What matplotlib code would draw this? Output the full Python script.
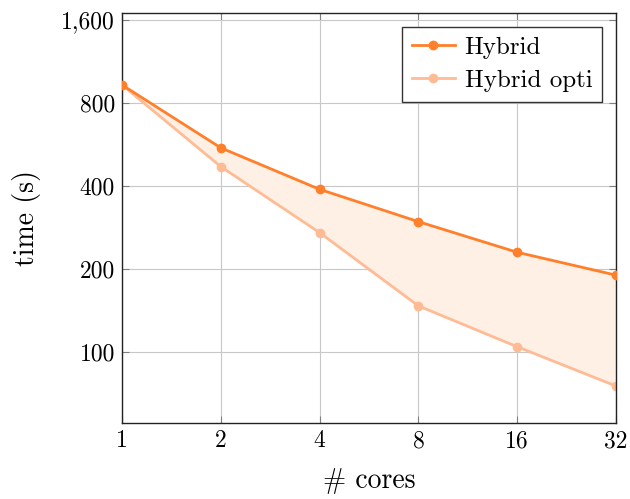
import matplotlib.pyplot as plt
from matplotlib.ticker import FixedLocator, NullLocator

plt.rcParams.update({
    'font.family': 'serif',
    'font.serif': ['cmr10', 'DejaVu Serif'],
    'mathtext.fontset': 'cm',
    'axes.formatter.use_mathtext': True,
})

cores = [1, 2, 4, 8, 16, 32]
hybrid = [930, 550, 389, 297, 230, 190]
hybrid_opti = [930, 470, 271, 147, 104.5, 75.3]
x_ticks = [1, 2, 4, 8, 16, 32]
x_labels = ['1', '2', '4', '8', '16', '32']
y_ticks = [100, 200, 400, 800, 1600]
y_labels = ['100', '200', '400', '800', '1,600']

c_hyb = '#ff7f2a'
c_opti = '#ffbb94'

fig = plt.figure(figsize=(6.3, 4.99), dpi=100, facecolor='white')
ax = fig.add_axes([0.1937, 0.1523, 0.7841, 0.8217])

ax.set_xscale('log', base=2)
ax.set_yscale('log', base=2)

ax.fill_between(cores, hybrid_opti, hybrid, color='#fff0e6', lw=0, zorder=1)
ax.plot(cores, hybrid, color=c_hyb, lw=2, marker='o', ms=6, label='Hybrid', zorder=3)
ax.plot(cores, hybrid_opti, color=c_opti, lw=2, marker='o', ms=6, label='Hybrid opti', zorder=2)

ax.set_xlim(1, 32)
ax.set_ylim(55.3, 1696)
ax.xaxis.set_major_locator(FixedLocator(x_ticks))
ax.xaxis.set_minor_locator(NullLocator())
ax.set_xticklabels(x_labels)
ax.yaxis.set_major_locator(FixedLocator(y_ticks))
ax.yaxis.set_minor_locator(NullLocator())
ax.set_yticklabels(y_labels)

ax.tick_params(direction='in', length=5, width=0.8, color='#808080',
               top=True, right=True, labelsize=17, pad=5)
ax.grid(True, color='#c8c8c8', lw=0.8, zorder=0)
ax.set_axisbelow(True)
for s in ax.spines.values():
    s.set_linewidth(1.0)
    s.set_color('#222222')

ax.set_xlabel('# cores', fontsize=20, labelpad=11)
ax.set_ylabel('time (s)', fontsize=20, labelpad=15)

leg = ax.legend(loc='upper right', fontsize=18, fancybox=False, framealpha=1,
                edgecolor='#333333', borderaxespad=0.55, handlelength=1.7,
                handletextpad=0.4, labelspacing=0.4, borderpad=0.4)
leg.get_frame().set_linewidth(1.0)

plt.savefig('out.png', dpi=100)
